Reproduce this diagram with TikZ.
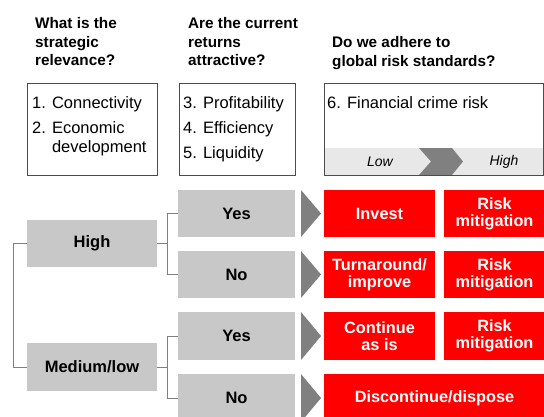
\documentclass[tikz,border=0pt]{standalone}
\usepackage{fontspec}
\setmainfont{Liberation Sans}
\definecolor{boxgray}{HTML}{C8C8C8}
\definecolor{midgray}{HTML}{808080}
\definecolor{bandgray}{HTML}{E8E8E8}
\definecolor{myred}{HTML}{FF0000}
\tikzset{
  hdr/.style={anchor=north west, inner sep=0pt, align=left, font=\fontsize{15.3}{18.5}\selectfont\bfseries},
  itemtext/.style={anchor=north west, inner sep=0pt, align=left, font=\fontsize{16.5}{19}\selectfont},
  frame/.style={draw=black!70, line width=0.7pt, inner sep=0pt, outer sep=0pt},
  graybox/.style={fill=boxgray, inner sep=0pt, outer sep=0pt, font=\fontsize{16.5}{17}\selectfont\bfseries},
  redbox/.style={fill=myred, text=white, inner sep=0pt, outer sep=0pt, align=center, font=\fontsize{16.3}{17}\selectfont\bfseries},
  conn/.style={draw=midgray, line width=0.8pt},
  tri/.style={fill=midgray},
  scalelabel/.style={font=\fontsize{14}{16}\selectfont\itshape, inner sep=0pt},
}
\begin{document}
\begin{tikzpicture}[x=1pt, y=-1pt]
\useasboundingbox (0,0) rectangle (544,416);

% headers
\node[hdr] (h1) at (35,17.3) {What is the\\strategic\\relevance?};
\node[hdr] (h2) at (188,17.3) {Are the current\\returns\\attractive?};
\node[hdr] (h3) at (332,36.3) {Do we adhere to\\global risk standards?};

% top boxes
\fill[bandgray] (324,148) rectangle (543.5,175);
\fill[midgray] (419,148) -- (452,148) -- (463,161.5) -- (452,175) -- (419,175) -- (431,161.5) -- cycle;
\node[frame, minimum width=130pt, minimum height=92pt] (b1) at (92,129) {};
\node[frame, minimum width=116pt, minimum height=92pt] (b2) at (237,129) {};
\node[frame, minimum width=219.5pt, minimum height=92pt] (b3) at (433.75,129) {};

\node[itemtext] (t1) at (32,96.8) {1. Connectivity};
\node[itemtext] (t2) at (32,121.8) {2. Economic\\\phantom{2. }development};
\node[itemtext] (t3) at (183,96.8) {3. Profitability};
\node[itemtext] (t4) at (183,121.8) {4. Efficiency};
\node[itemtext] (t5) at (183,146.8) {5. Liquidity};
\node[itemtext] (t6) at (327,96.8) {6. Financial crime risk};
\node[scalelabel] (low) at (380,162) {Low};
\node[scalelabel] (high) at (504,162) {High};

% tree
\node[graybox, minimum width=130pt, minimum height=47pt] (H) at (92,243.5) {High};
\node[graybox, minimum width=130pt, minimum height=48pt] (M) at (92,367) {Medium/low};
\node[graybox, minimum width=117pt, minimum height=47pt] (y1) at (236.5,213.5) {Yes};
\node[graybox, minimum width=117pt, minimum height=47pt] (n1) at (236.5,274.5) {No};
\node[graybox, minimum width=117pt, minimum height=48pt] (y2) at (236.5,336) {Yes};
\node[graybox, minimum width=117pt, minimum height=48pt] (n2) at (236.5,398) {No};

\draw[conn] (H.west) -- ++(-14,0) |- (M.west);
\draw[conn] (y1.west) -- ++(-11,0) |- (H.east);
\draw[conn] (n1.west) -- ++(-11,0) |- (H.east);
\draw[conn] (y2.west) -- ++(-11,0) |- (M.east);
\draw[conn] (n2.west) -- ++(-11,0) |- (M.east);

% arrows
\fill[tri] (301,190) -- (321,213.5) -- (301,237) -- cycle;
\fill[tri] (301,251) -- (321,274.5) -- (301,298) -- cycle;
\fill[tri] (301,312) -- (321,336) -- (301,360) -- cycle;
\fill[tri] (301,374) -- (321,398) -- (301,422) -- cycle;

% outcomes
\node[redbox, minimum width=111pt, minimum height=47pt] (r1) at (379.5,213.5) {Invest};
\node[redbox, minimum width=101pt, minimum height=47pt] (m1) at (494.5,213.5) {Risk\\mitigation};
\node[redbox, minimum width=111pt, minimum height=47pt] (r2) at (379.5,274.5) {Turnaround/\\improve};
\node[redbox, minimum width=101pt, minimum height=47pt] (m2) at (494.5,274.5) {Risk\\mitigation};
\node[redbox, minimum width=111pt, minimum height=48pt] (r3) at (379.5,336) {Continue\\as is};
\node[redbox, minimum width=101pt, minimum height=48pt] (m3) at (494.5,336) {Risk\\mitigation};
\node[redbox, minimum width=221pt, minimum height=48pt] (r4) at (434.5,398) {Discontinue/dispose};
\end{tikzpicture}
\end{document}
